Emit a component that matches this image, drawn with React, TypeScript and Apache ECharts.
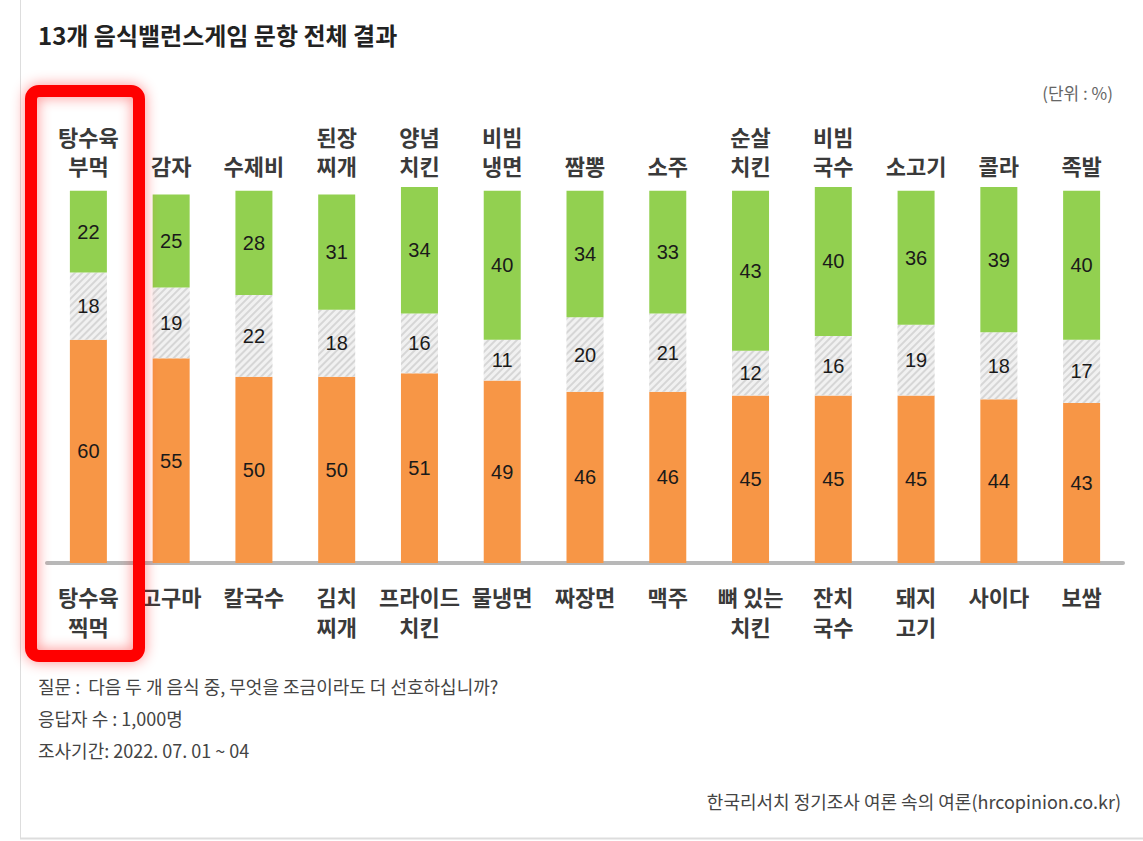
import React, { useEffect, useRef } from "react";
import * as echarts from "echarts";

const topCategories = ["탕수육\n부먹", "감자", "수제비", "된장\n찌개", "양념\n치킨", "비빔\n냉면", "짬뽕", "소주", "순살\n치킨", "비빔\n국수", "소고기", "콜라", "족발"];
const bottomCategories = ["탕수육\n찍먹", "고구마", "칼국수", "김치\n찌개", "프라이드\n치킨", "물냉면", "짜장면", "맥주", "뼈 있는\n치킨", "잔치\n국수", "돼지\n고기", "사이다", "보쌈"];
const bottomValues = [60, 55, 50, 50, 51, 49, 46, 46, 45, 45, 45, 44, 43];
const middleValues = [18, 19, 22, 18, 16, 11, 20, 21, 12, 16, 19, 18, 17];
const topValues = [22, 25, 28, 31, 34, 40, 34, 33, 43, 40, 36, 39, 40];

const titleText = "13개 음식밸런스게임 문항 전체 결과";
const unitText = "(단위 : %)";
const noteLines = [
  "질문 :  다음 두 개 음식 중, 무엇을 조금이라도 더 선호하십니까?",
  "응답자 수 : 1,000명",
  "조사기간: 2022. 07. 01 ~ 04",
];
const sourceText = "한국리서치 정기조사 여론 속의 여론(hrcopinion.co.kr)";

const KR = "'Noto Sans CJK KR', 'Noto Sans', sans-serif";
const NUM = "'Liberation Sans', Arial, sans-serif";

export default function App() {
  const ref = useRef<HTMLDivElement>(null);
  useEffect(() => {
    document.body.style.margin = "0";
    const chart = echarts.init(ref.current!, null, { renderer: "svg" });
    const valueLabel = {
      show: true,
      position: "inside",
      fontSize: 20,
      fontFamily: NUM,
      color: "#1a1a1a",
    };
    const catLabel = {
      fontSize: 22,
      fontWeight: "bold",
      color: "#3a3a3a",
      fontFamily: KR,
      interval: 0,
    };
    chart.setOption({
      animation: false,
      backgroundColor: "#ffffff",
      grid: { left: 47, right: 20, top: 187, bottom: 278 },
      xAxis: [
        {
          type: "category",
          data: bottomCategories,
          position: "bottom",
          axisLine: { show: true, lineStyle: { color: "#b8b8b8", width: 4 } },
          axisTick: { show: false },
          axisLabel: { ...catLabel, lineHeight: 30, margin: 18, verticalAlign: "top" },
        },
        {
          type: "category",
          data: topCategories,
          position: "top",
          axisLine: { show: false },
          axisTick: { show: false },
          axisLabel: { ...catLabel, lineHeight: 29, margin: 8, verticalAlign: "bottom" },
        },
      ],
      yAxis: {
        type: "value",
        min: 0,
        max: 101,
        show: false,
        splitLine: { show: false },
      },
      series: [
        {
          type: "bar",
          stack: "s",
          data: bottomValues,
          barWidth: 37,
          itemStyle: { color: "#f79646" },
          label: valueLabel,
        },
        {
          type: "bar",
          stack: "s",
          data: middleValues,
          barWidth: 37,
          itemStyle: {
            color: "#f1f1f1",
            decal: {
              symbol: "rect",
              symbolSize: 1,
              color: "#d6d6d6",
              dashArrayX: [1, 0],
              dashArrayY: [2, 3],
              rotation: -Math.PI / 4,
            },
          },
          label: valueLabel,
        },
        {
          type: "bar",
          stack: "s",
          data: topValues,
          barWidth: 37,
          itemStyle: { color: "#92d050" },
          label: valueLabel,
        },
      ],
      graphic: [
        {
          type: "line",
          shape: { x1: 20.5, y1: 0, x2: 20.5, y2: 838 },
          style: { stroke: "#dddddd", lineWidth: 1 },
        },
        {
          type: "line",
          shape: { x1: 20, y1: 838.5, x2: 1143, y2: 838.5 },
          style: { stroke: "#dddddd", lineWidth: 2 },
        },
        {
          type: "text",
          left: 38,
          top: 22,
          style: { text: titleText, fontSize: 24, fontWeight: "bold", fill: "#222", fontFamily: KR },
        },
        {
          type: "text",
          right: 30,
          top: 84,
          style: { text: unitText, fontSize: 17, fill: "#666", fontFamily: KR },
        },
        ...noteLines.map((t, i) => ({
          type: "text",
          left: 38,
          top: 677 + i * 32,
          style: { text: t, fontSize: 18, fill: "#444", fontFamily: KR },
        })),
        {
          type: "text",
          right: 22,
          top: 792,
          style: { text: sourceText, fontSize: 18, fill: "#444", fontFamily: KR },
        },
        {
          type: "rect",
          shape: { x: 31, y: 91, width: 108, height: 565, r: 8 },
          style: {
            fill: "none",
            stroke: "#ff0000",
            lineWidth: 12,
            shadowBlur: 14,
            shadowColor: "rgba(255,0,0,0.45)",
          },
          z: 100,
        },
      ],
    });
    return () => chart.dispose();
  }, []);
  return <div ref={ref} style={{ width: 1143, height: 841 }} />;
}
